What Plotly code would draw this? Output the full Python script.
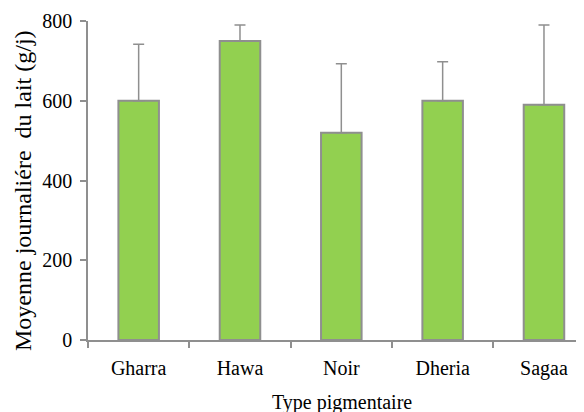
import plotly.graph_objects as go

categories = ["Gharra", "Hawa", "Noir", "Dheria", "Sagaa"]
means = [600, 750, 520, 600, 590]
errors_plus = [142, 40, 173, 98, 200]
y_ticks = [0, 200, 400, 600, 800]

FONT = "Liberation Serif, Times New Roman, serif"
GRAY = "#8f8f8f"

fig = go.Figure()
fig.add_trace(go.Bar(
    x=categories,
    y=means,
    marker=dict(color="#92D050", line=dict(color=GRAY, width=2)),
    error_y=dict(type="data", array=errors_plus, arrayminus=[0]*len(means),
                 symmetric=False, color=GRAY, thickness=1.5, width=5.5),
    width=0.4,
))

# page body has an 8px margin, so the figure is 576x404 placed at (8, 8)
fig.update_layout(
    width=576, height=404,
    margin=dict(l=80, r=0, t=13, b=72),
    paper_bgcolor="white", plot_bgcolor="white",
    showlegend=False,
    font=dict(family=FONT, size=20, color="black"),
    xaxis=dict(
        type="category",
        range=[-0.5, 4.395],
        tickson="boundaries",
        showline=True, linecolor=GRAY, linewidth=1.5,
        ticks="outside", ticklen=6, tickcolor=GRAY, tickwidth=1.5,
        showgrid=False, zeroline=False,
        ticklabelstandoff=9,
        tickfont=dict(family=FONT, size=20, color="black"),
    ),
    yaxis=dict(
        range=[0, 800],
        tickvals=y_ticks,
        showline=True, linecolor=GRAY, linewidth=1.5,
        ticks="outside", ticklen=6, tickcolor=GRAY, tickwidth=1.5,
        showgrid=False, zeroline=False,
        tickfont=dict(family=FONT, size=20, color="black"),
        ticklabelstandoff=4,
    ),
)

fig.add_annotation(
    text="Moyenne journaliére\u00a0 du lait (g/j)", xref="paper", yref="paper",
    x=(23 - 88) / 496, y=(340 - 191) / 319, xanchor="center", yanchor="middle",
    textangle=-90, showarrow=False,
    font=dict(family=FONT, size=24, color="black"),
)

fig.add_annotation(
    text="Type pigmentaire", xref="paper", yref="paper",
    x=(341.5 - 88) / 496, y=-76 / 319, xanchor="center", yanchor="bottom",
    showarrow=False, font=dict(family=FONT, size=20, color="black"),
)

fig.write_html("out.html")
